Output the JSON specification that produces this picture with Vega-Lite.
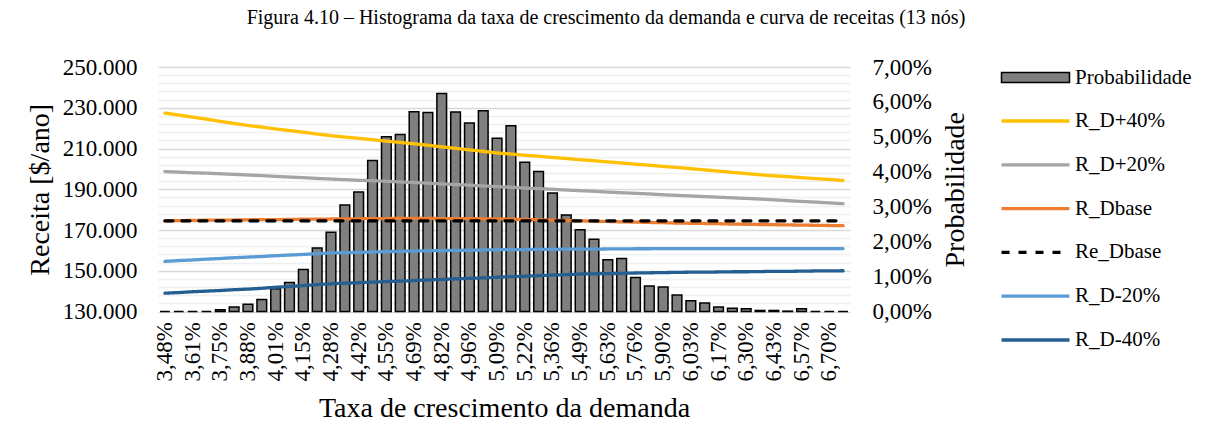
{
  "$schema": "https://vega.github.io/schema/vega-lite/v6.json",
  "autosize": {"type": "none"},
  "width": 692,
  "height": 244.5,
  "padding": {"left": 158, "top": 67, "right": 359, "bottom": 127.5},
  "background": "#ffffff",
  "title": {
    "text": "Figura 4.10 – Histograma da taxa de crescimento da demanda e curva de receitas (13 nós)",
    "font": "Liberation Serif",
    "fontSize": 20,
    "fontWeight": "normal",
    "color": "#000000",
    "anchor": "middle",
    "frame": "group",
    "dx": 102,
    "offset": 28
  },
  "config": {
    "view": {"stroke": null},
    "axis": {
      "labelFont": "Liberation Serif",
      "titleFont": "Liberation Serif",
      "labelColor": "#000000",
      "titleColor": "#000000",
      "titleFontWeight": "normal",
      "ticks": false,
      "domain": false,
      "labelOverlap": false,
      "labelBound": false
    },
    "legend": {
      "labelFont": "Liberation Serif",
      "labelColor": "#000000",
      "labelFontSize": 21
    }
  },
  "data": {
    "values": [
      {"x": "3,48%", "p": 0.0000, "R_D+40%": 227400, "R_D+20%": 198700, "R_Dbase": 174500, "Re_Dbase": 174500, "R_D-20%": 154600, "R_D-40%": 139000},
      {"x": "3,55%", "p": 0.0000, "R_D+40%": 226400, "R_D+20%": 198400, "R_Dbase": 174600, "Re_Dbase": 174500, "R_D-20%": 155000, "R_D-40%": 139300},
      {"x": "3,61%", "p": 0.0000, "R_D+40%": 225400, "R_D+20%": 198100, "R_Dbase": 174700, "Re_Dbase": 174500, "R_D-20%": 155300, "R_D-40%": 139700},
      {"x": "3,68%", "p": 0.0000, "R_D+40%": 224400, "R_D+20%": 197900, "R_Dbase": 174800, "Re_Dbase": 174500, "R_D-20%": 155700, "R_D-40%": 140000},
      {"x": "3,75%", "p": 0.0005, "R_D+40%": 223300, "R_D+20%": 197600, "R_Dbase": 174800, "Re_Dbase": 174500, "R_D-20%": 156000, "R_D-40%": 140300},
      {"x": "3,81%", "p": 0.0013, "R_D+40%": 222300, "R_D+20%": 197300, "R_Dbase": 174900, "Re_Dbase": 174500, "R_D-20%": 156400, "R_D-40%": 140700},
      {"x": "3,88%", "p": 0.0021, "R_D+40%": 221300, "R_D+20%": 197000, "R_Dbase": 175000, "Re_Dbase": 174500, "R_D-20%": 156700, "R_D-40%": 141000},
      {"x": "3,95%", "p": 0.0034, "R_D+40%": 220500, "R_D+20%": 196700, "R_Dbase": 175100, "Re_Dbase": 174500, "R_D-20%": 157000, "R_D-40%": 141400},
      {"x": "4,01%", "p": 0.0065, "R_D+40%": 219600, "R_D+20%": 196300, "R_Dbase": 175100, "Re_Dbase": 174500, "R_D-20%": 157400, "R_D-40%": 141900},
      {"x": "4,08%", "p": 0.0083, "R_D+40%": 218800, "R_D+20%": 196000, "R_Dbase": 175200, "Re_Dbase": 174500, "R_D-20%": 157700, "R_D-40%": 142300},
      {"x": "4,15%", "p": 0.0120, "R_D+40%": 218000, "R_D+20%": 195700, "R_Dbase": 175300, "Re_Dbase": 174500, "R_D-20%": 158000, "R_D-40%": 142700},
      {"x": "4,21%", "p": 0.0182, "R_D+40%": 217100, "R_D+20%": 195300, "R_Dbase": 175300, "Re_Dbase": 174500, "R_D-20%": 158400, "R_D-40%": 143200},
      {"x": "4,28%", "p": 0.0227, "R_D+40%": 216300, "R_D+20%": 195000, "R_Dbase": 175400, "Re_Dbase": 174500, "R_D-20%": 158700, "R_D-40%": 143600},
      {"x": "4,35%", "p": 0.0305, "R_D+40%": 215600, "R_D+20%": 194700, "R_Dbase": 175500, "Re_Dbase": 174500, "R_D-20%": 158900, "R_D-40%": 143900},
      {"x": "4,42%", "p": 0.0342, "R_D+40%": 215000, "R_D+20%": 194400, "R_Dbase": 175500, "Re_Dbase": 174500, "R_D-20%": 159000, "R_D-40%": 144100},
      {"x": "4,48%", "p": 0.0432, "R_D+40%": 214300, "R_D+20%": 194200, "R_Dbase": 175600, "Re_Dbase": 174500, "R_D-20%": 159200, "R_D-40%": 144400},
      {"x": "4,55%", "p": 0.0500, "R_D+40%": 213600, "R_D+20%": 193900, "R_Dbase": 175600, "Re_Dbase": 174500, "R_D-20%": 159400, "R_D-40%": 144700},
      {"x": "4,62%", "p": 0.0507, "R_D+40%": 213000, "R_D+20%": 193600, "R_Dbase": 175700, "Re_Dbase": 174500, "R_D-20%": 159500, "R_D-40%": 144900},
      {"x": "4,69%", "p": 0.0572, "R_D+40%": 212300, "R_D+20%": 193300, "R_Dbase": 175700, "Re_Dbase": 174500, "R_D-20%": 159700, "R_D-40%": 145200},
      {"x": "4,75%", "p": 0.0570, "R_D+40%": 211600, "R_D+20%": 193000, "R_Dbase": 175700, "Re_Dbase": 174500, "R_D-20%": 159800, "R_D-40%": 145500},
      {"x": "4,82%", "p": 0.0624, "R_D+40%": 210800, "R_D+20%": 192600, "R_Dbase": 175600, "Re_Dbase": 174500, "R_D-20%": 159900, "R_D-40%": 145700},
      {"x": "4,89%", "p": 0.0571, "R_D+40%": 210100, "R_D+20%": 192300, "R_Dbase": 175600, "Re_Dbase": 174500, "R_D-20%": 160000, "R_D-40%": 146000},
      {"x": "4,96%", "p": 0.0540, "R_D+40%": 209300, "R_D+20%": 192000, "R_Dbase": 175600, "Re_Dbase": 174500, "R_D-20%": 160100, "R_D-40%": 146300},
      {"x": "5,02%", "p": 0.0575, "R_D+40%": 208600, "R_D+20%": 191600, "R_Dbase": 175500, "Re_Dbase": 174500, "R_D-20%": 160200, "R_D-40%": 146500},
      {"x": "5,09%", "p": 0.0496, "R_D+40%": 207800, "R_D+20%": 191300, "R_Dbase": 175500, "Re_Dbase": 174500, "R_D-20%": 160300, "R_D-40%": 146800},
      {"x": "5,16%", "p": 0.0532, "R_D+40%": 207300, "R_D+20%": 191000, "R_Dbase": 175300, "Re_Dbase": 174500, "R_D-20%": 160400, "R_D-40%": 147100},
      {"x": "5,22%", "p": 0.0427, "R_D+40%": 206700, "R_D+20%": 190600, "R_Dbase": 175200, "Re_Dbase": 174500, "R_D-20%": 160400, "R_D-40%": 147300},
      {"x": "5,29%", "p": 0.0401, "R_D+40%": 206200, "R_D+20%": 190300, "R_Dbase": 175000, "Re_Dbase": 174500, "R_D-20%": 160500, "R_D-40%": 147600},
      {"x": "5,36%", "p": 0.0339, "R_D+40%": 205600, "R_D+20%": 190000, "R_Dbase": 174800, "Re_Dbase": 174500, "R_D-20%": 160500, "R_D-40%": 147900},
      {"x": "5,43%", "p": 0.0276, "R_D+40%": 205100, "R_D+20%": 189600, "R_Dbase": 174700, "Re_Dbase": 174500, "R_D-20%": 160600, "R_D-40%": 148100},
      {"x": "5,49%", "p": 0.0234, "R_D+40%": 204500, "R_D+20%": 189300, "R_Dbase": 174500, "Re_Dbase": 174500, "R_D-20%": 160600, "R_D-40%": 148400},
      {"x": "5,56%", "p": 0.0207, "R_D+40%": 204000, "R_D+20%": 189000, "R_Dbase": 174300, "Re_Dbase": 174500, "R_D-20%": 160600, "R_D-40%": 148500},
      {"x": "5,63%", "p": 0.0148, "R_D+40%": 203400, "R_D+20%": 188600, "R_Dbase": 174200, "Re_Dbase": 174500, "R_D-20%": 160700, "R_D-40%": 148600},
      {"x": "5,69%", "p": 0.0152, "R_D+40%": 202900, "R_D+20%": 188300, "R_Dbase": 174000, "Re_Dbase": 174500, "R_D-20%": 160700, "R_D-40%": 148700},
      {"x": "5,76%", "p": 0.0097, "R_D+40%": 202300, "R_D+20%": 188000, "R_Dbase": 173900, "Re_Dbase": 174500, "R_D-20%": 160800, "R_D-40%": 148900},
      {"x": "5,83%", "p": 0.0073, "R_D+40%": 201800, "R_D+20%": 187700, "R_Dbase": 173700, "Re_Dbase": 174500, "R_D-20%": 160800, "R_D-40%": 149000},
      {"x": "5,90%", "p": 0.0070, "R_D+40%": 201200, "R_D+20%": 187300, "R_Dbase": 173600, "Re_Dbase": 174500, "R_D-20%": 160900, "R_D-40%": 149100},
      {"x": "5,96%", "p": 0.0047, "R_D+40%": 200700, "R_D+20%": 187000, "R_Dbase": 173400, "Re_Dbase": 174500, "R_D-20%": 160900, "R_D-40%": 149200},
      {"x": "6,03%", "p": 0.0031, "R_D+40%": 200100, "R_D+20%": 186700, "R_Dbase": 173300, "Re_Dbase": 174500, "R_D-20%": 160900, "R_D-40%": 149300},
      {"x": "6,10%", "p": 0.0024, "R_D+40%": 199500, "R_D+20%": 186400, "R_Dbase": 173200, "Re_Dbase": 174500, "R_D-20%": 160900, "R_D-40%": 149300},
      {"x": "6,17%", "p": 0.0013, "R_D+40%": 198900, "R_D+20%": 186100, "R_Dbase": 173100, "Re_Dbase": 174500, "R_D-20%": 160900, "R_D-40%": 149400},
      {"x": "6,23%", "p": 0.0009, "R_D+40%": 198300, "R_D+20%": 185800, "R_Dbase": 172900, "Re_Dbase": 174500, "R_D-20%": 160900, "R_D-40%": 149500},
      {"x": "6,30%", "p": 0.0008, "R_D+40%": 197700, "R_D+20%": 185500, "R_Dbase": 172800, "Re_Dbase": 174500, "R_D-20%": 160900, "R_D-40%": 149500},
      {"x": "6,37%", "p": 0.0003, "R_D+40%": 197100, "R_D+20%": 185200, "R_Dbase": 172700, "Re_Dbase": 174500, "R_D-20%": 160900, "R_D-40%": 149600},
      {"x": "6,43%", "p": 0.0003, "R_D+40%": 196600, "R_D+20%": 184800, "R_Dbase": 172600, "Re_Dbase": 174500, "R_D-20%": 160900, "R_D-40%": 149700},
      {"x": "6,50%", "p": 0.0001, "R_D+40%": 196200, "R_D+20%": 184400, "R_Dbase": 172500, "Re_Dbase": 174500, "R_D-20%": 160900, "R_D-40%": 149700},
      {"x": "6,57%", "p": 0.0008, "R_D+40%": 195700, "R_D+20%": 184000, "R_Dbase": 172400, "Re_Dbase": 174500, "R_D-20%": 160900, "R_D-40%": 149800},
      {"x": "6,64%", "p": 0.0000, "R_D+40%": 195200, "R_D+20%": 183700, "R_Dbase": 172300, "Re_Dbase": 174500, "R_D-20%": 160900, "R_D-40%": 149900},
      {"x": "6,70%", "p": 0.0000, "R_D+40%": 194800, "R_D+20%": 183300, "R_Dbase": 172200, "Re_Dbase": 174500, "R_D-20%": 160900, "R_D-40%": 149900},
      {"x": "6,77%", "p": 0.0000, "R_D+40%": 194300, "R_D+20%": 182900, "R_Dbase": 172100, "Re_Dbase": 174500, "R_D-20%": 160900, "R_D-40%": 150000}
    ]
  },
  "encoding": {
    "x": {
      "field": "x",
      "type": "ordinal",
      "sort": null,
      "scale": {"paddingInner": 0.3, "paddingOuter": 0.15},
      "axis": {
        "title": "Taxa de crescimento da demanda",
        "titleFont": "Liberation Serif",
        "labelFont": "Liberation Serif",
        "titleFontSize": 28,
        "titlePadding": 14,
        "labelFontSize": 23,
        "labelAngle": -90,
        "labelPadding": 10,
        "values": ["3,48%", "3,61%", "3,75%", "3,88%", "4,01%", "4,15%", "4,28%", "4,42%", "4,55%", "4,69%", "4,82%", "4,96%", "5,09%", "5,22%", "5,36%", "5,49%", "5,63%", "5,76%", "5,90%", "6,03%", "6,17%", "6,30%", "6,43%", "6,57%", "6,70%"]
      }
    }
  },
  "layer": [
    {
      "mark": {"type": "bar", "stroke": "#000000", "strokeWidth": 1.5},
      "encoding": {
        "y": {
          "field": "p",
          "type": "quantitative",
          "scale": {"domain": [0, 0.07], "nice": false},
          "axis": {
            "orient": "right",
            "title": "Probabilidade",
            "titleFont": "Liberation Serif",
            "labelFont": "Liberation Serif",
            "titleFontSize": 28,
            "titleAngle": -90,
            "titleBaseline": "top",
            "titlePadding": 10,
            "labelFontSize": 23,
            "labelPadding": 22,
            "grid": false,
            "values": [0, 0.01, 0.02, 0.03, 0.04, 0.05, 0.06, 0.07],
            "labelExpr": "replace(format(datum.value, '.2%'), '.', ',')"
          }
        },
        "fill": {
          "datum": "Probabilidade",
          "type": "nominal",
          "scale": {"range": ["#7f7f7f"]},
          "legend": {
            "title": null,
            "orient": "none",
            "legendX": 867,
            "legendY": 0,
            "labelFont": "Liberation Serif",
            "labelFontSize": 21,
            "labelColor": "#000000",
            "symbolType": "M-6.8,-1H6.8V1H-6.8Z",
            "symbolSize": 100,
            "symbolStrokeColor": "#000000",
            "symbolStrokeWidth": 1.5,
            "labelOffset": 29
          }
        }
      }
    },
    {
      "layer": [
        {
          "transform": [{"fold": ["R_D+40%", "R_D+20%", "R_Dbase", "R_D-20%", "R_D-40%"], "as": ["serie", "valor"]}],
          "mark": {"type": "line", "strokeWidth": 3.3, "strokeCap": "round", "strokeJoin": "round"},
          "encoding": {
            "y": {"field": "valor", "type": "quantitative"},
            "color": {"field": "serie", "type": "nominal"},
            "strokeDash": {"field": "serie", "type": "nominal"}
          }
        },
        {
          "transform": [{"fold": ["Re_Dbase"], "as": ["serie", "valor"]}],
          "mark": {"type": "line", "strokeWidth": 3.3, "strokeCap": "round", "strokeJoin": "round"},
          "encoding": {
            "y": {"field": "valor", "type": "quantitative"},
            "color": {"field": "serie", "type": "nominal"},
            "strokeDash": {"field": "serie", "type": "nominal"}
          }
        }
      ],
      "encoding": {
        "y": {
          "field": "valor",
          "type": "quantitative",
          "scale": {"domain": [130000, 250000], "nice": false, "zero": false},
          "axis": {
            "orient": "left",
            "title": "Receita [$/ano]",
            "titleFont": "Liberation Serif",
            "labelFont": "Liberation Serif",
            "titleFontSize": 28,
            "titlePadding": 8,
            "labelFontSize": 23,
            "labelPadding": 21,
            "grid": true,
            "gridWidth": 1.3,
            "gridColor": {"condition": {"test": "datum.value % 20000 === 10000", "value": "#d9d9d9"}, "value": "#f0f0f0"},
            "values": [130000, 134000, 138000, 142000, 146000, 150000, 154000, 158000, 162000, 166000, 170000, 174000, 178000, 182000, 186000, 190000, 194000, 198000, 202000, 206000, 210000, 214000, 218000, 222000, 226000, 230000, 234000, 238000, 242000, 246000, 250000],
            "labelExpr": "datum.value % 20000 === 10000 ? replace(format(datum.value, ','), ',', '.') : ''"
          }
        },
        "color": {
          "field": "serie",
          "type": "nominal",
          "scale": {
            "domain": ["R_D+40%", "R_D+20%", "R_Dbase", "Re_Dbase", "R_D-20%", "R_D-40%"],
            "range": ["#FFC000", "#A5A5A5", "#ED7D31", "#000000", "#5B9BD5", "#255E91"]
          },
          "legend": {
            "title": null,
            "orient": "none",
            "legendX": 867,
            "legendY": 43.5,
            "labelFont": "Liberation Serif",
            "labelFontSize": 21,
            "labelColor": "#000000",
            "symbolType": "M-6.8,0H6.8",
            "symbolSize": 100,
            "symbolStrokeWidth": 3.3,
            "labelOffset": 29,
            "rowPadding": 21.8
          }
        },
        "strokeDash": {
          "field": "serie",
          "type": "nominal",
          "scale": {
            "domain": ["R_D+40%", "R_D+20%", "R_Dbase", "Re_Dbase", "R_D-20%", "R_D-40%"],
            "range": [[1, 0], [1, 0], [1, 0], [8, 9], [1, 0], [1, 0]]
          },
          "legend": {
            "title": null,
            "orient": "none",
            "legendX": 867,
            "legendY": 43.5,
            "labelFont": "Liberation Serif",
            "labelFontSize": 21,
            "labelColor": "#000000",
            "symbolType": "M-6.8,0H6.8",
            "symbolSize": 100,
            "symbolStrokeWidth": 3.3,
            "labelOffset": 29,
            "rowPadding": 21.8
          }
        }
      }
    }
  ],
  "resolve": {"scale": {"y": "independent"}}
}
